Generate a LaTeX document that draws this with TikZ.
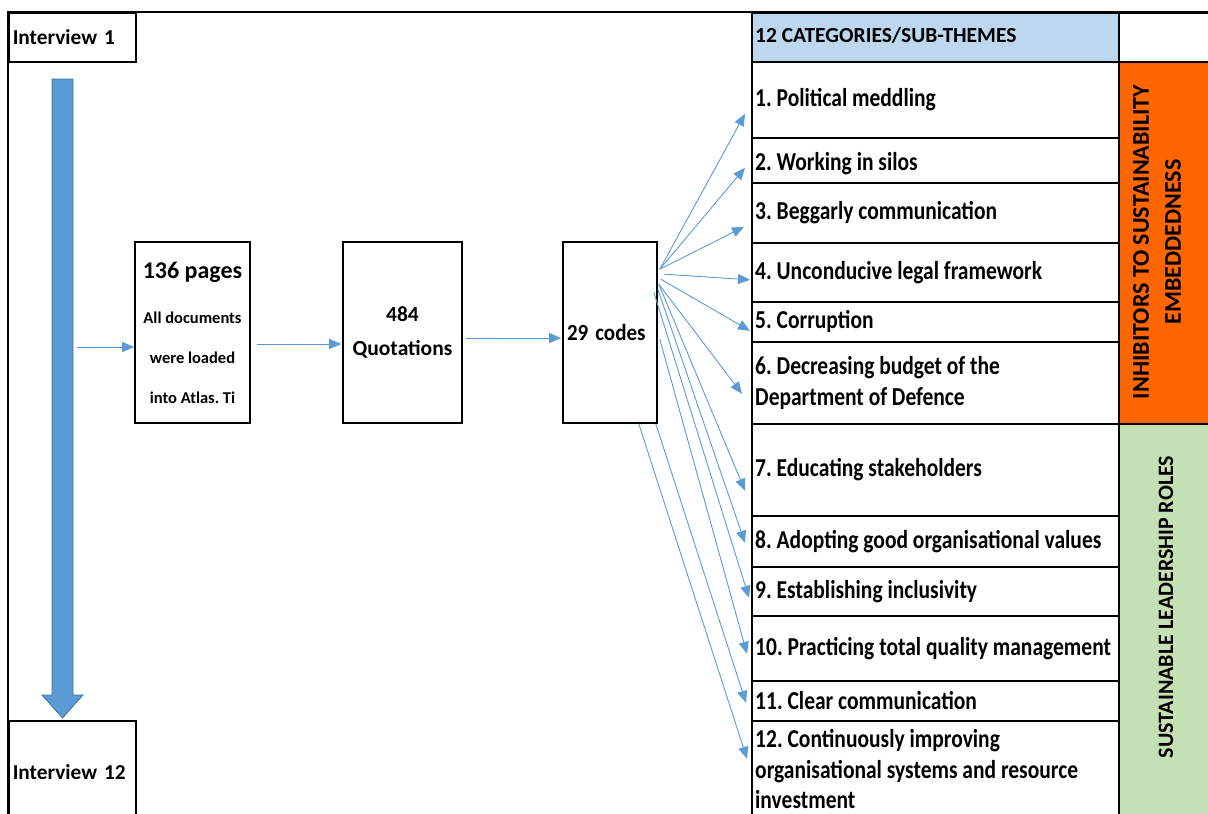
\documentclass[tikz,border=0pt]{standalone}
\usepackage{graphicx}
\usepackage{fontspec}
\setmainfont{Carlito}
\usetikzlibrary{arrows.meta,calc}
\definecolor{flowblue}{HTML}{5B9BD5}
\definecolor{flowedge}{HTML}{41719C}
\definecolor{headblue}{HTML}{BDD7EE}
\definecolor{inhibit}{HTML}{FF6600}
\definecolor{leadgreen}{HTML}{C5E0B4}
% table entries are set a little taller than wide
\newcommand\tallrow[1]{\scalebox{1}[1.2]{#1}}

\begin{document}
\frenchspacing
\begin{tikzpicture}[x=1pt,y=-1pt,
  frame/.style={draw=black,line width=1.6pt},
  stagebox/.style={frame,fill=white,inner sep=0pt,align=center,font=\bfseries},
  cell/.style={frame,anchor=north west,inner sep=0pt,minimum width=367pt},
  rowtext/.style={anchor=west,inner xsep=4pt,inner ysep=0pt,align=left,
    font=\bfseries\fontsize{21.5}{31}\selectfont},
  sidecell/.style={draw=black,line width=1.6pt,anchor=north west,inner sep=0pt,minimum width=112pt},
  sidetext/.style={rotate=90,align=center,font=\bfseries\fontsize{24}{32}\selectfont},
  link/.style={draw=flowblue,line width=0.9pt,-{Triangle[length=12pt,width=10pt]}},
]
\useasboundingbox (0,0) rectangle (1208,814);

% outer frame
\draw[frame] (8,830) -- (8,12) -- (1230,12);

% interview boxes and the block arrow between them
\node[frame,anchor=north west,minimum width=127pt,minimum height=49pt,inner xsep=4pt,
  text width=119pt,align=left,font=\bfseries\fontsize{21.3}{26}\selectfont] (int1) at (8,12) {\raisebox{-2pt}{Interview 1}};
\node[frame,anchor=north west,minimum width=127pt,minimum height=102pt,inner xsep=4pt,
  text width=119pt,align=left,font=\bfseries\fontsize{21.3}{26}\selectfont] (int12) at (8,720) {Interview 12};
\draw[fill=flowblue,draw=flowedge,line width=0.8pt]
  (52,79) -- (73,79) -- (73,695) -- (83,695) -- (62.5,718) -- (42,695) -- (52,695) -- cycle;

% processing stages
\node[stagebox,minimum width=115pt,minimum height=181pt,font=\bfseries\fontsize{16.5}{40}\selectfont]
  (pages) at (192.5,332.5) {{\fontsize{24}{24}\selectfont 136 pages}\\[5pt]All documents\\were loaded\\into Atlas. Ti};
\node[stagebox,minimum width=119pt,minimum height=181pt,font=\bfseries\fontsize{21.5}{34}\selectfont]
  (quot) at (402.5,332.5) {484\\Quotations};
\node[stagebox,minimum width=94pt,minimum height=181pt,inner xsep=4pt,text width=86pt,align=left,
  font=\bfseries\fontsize{21}{26}\selectfont] (codes) at (610,332.5) {\scalebox{1}[1.1]{29 codes}};

\coordinate (feed) at (77,347);
\coordinate (pq) at (257,344);
\coordinate (qc) at (466,338);
\draw[link] (feed) -- (feed -| pages.west);
\draw[link] (pq) -- ([xshift=-1pt]pq -| quot.west);
\draw[link] (qc) -- ([xshift=-1pt]qc -| codes.west);

% category table
\node[cell,fill=headblue,minimum height=49pt] (head) at (751,12) {};
\node[cell,minimum height=76pt] (r1) at (751,61) {};
\node[cell,minimum height=45pt] (r2) at (751,137) {};
\node[cell,minimum height=60pt] (r3) at (751,182) {};
\node[cell,minimum height=59pt] (r4) at (751,242) {};
\node[cell,minimum height=40pt] (r5) at (751,301) {};
\node[cell,minimum height=82pt] (r6) at (751,341) {};
\node[cell,minimum height=92pt] (r7) at (751,423) {};
\node[cell,minimum height=51pt] (r8) at (751,515) {};
\node[cell,minimum height=49pt] (r9) at (751,566) {};
\node[cell,minimum height=65pt] (r10) at (751,615) {};
\node[cell,minimum height=40pt] (r11) at (751,680) {};
\node[cell,minimum height=102pt] (r12) at (751,720) {};

\node[rowtext,font=\bfseries\fontsize{21.5}{26}\selectfont] (headtext) at ([yshift=2pt]head.west) {12 CATEGORIES/SUB-THEMES};
\node[rowtext] (t1) at (r1.west) {\tallrow{1. Political meddling}};
\node[rowtext] (t2) at ([yshift=-3pt]r2.west) {\tallrow{2. Working in silos}};
\node[rowtext] (t3) at (r3.west) {\tallrow{3. Beggarly communication}};
\node[rowtext] (t4) at (r4.west) {\tallrow{4. Unconducive legal framework}};
\node[rowtext] (t5) at (r5.west) {\tallrow{5. Corruption}};
\node[rowtext] (t6) at (r6.west) {\tallrow{6. Decreasing budget of the}\\\tallrow{Department of Defence}};
\node[rowtext] (t7) at (r7.west) {\tallrow{7. Educating stakeholders}};
\node[rowtext] (t8) at (r8.west) {\tallrow{8. Adopting good organisational values}};
\node[rowtext] (t9) at (r9.west) {\tallrow{9. Establishing inclusivity}};
\node[rowtext] (t10) at (r10.west) {\tallrow{10. Practicing total quality management}};
\node[rowtext] (t11) at (r11.west) {\tallrow{11. Clear communication}};
\node[rowtext,font=\bfseries\fontsize{21.5}{30.5}\selectfont] (t12) at ([yshift=2.5pt]r12.west) {\tallrow{12. Continuously improving}\\\tallrow{organisational systems and resource}\\\tallrow{investment}};

% theme column
\node[sidecell,minimum height=49pt] (blank) at (1118,12) {};
\node[sidecell,fill=inhibit,minimum height=362pt] (inh) at (1118,61) {};
\node[sidecell,fill=leadgreen,minimum height=407pt] (lead) at (1118,423) {};
\node[sidetext] (inhtext) at (1157,242) {INHIBITORS TO SUSTAINABILITY\\EMBEDDEDNESS};
\node[sidetext,font=\bfseries\fontsize{22}{32}\selectfont] (leadtext) at (1166,607) {SUSTAINABLE LEADERSHIP ROLES};

% codes fanned out to the categories
\coordinate (hub) at ($(codes.north east)+(2,28)$);
\coordinate (s4) at ($(codes.north east)+(6,33)$);
\coordinate (s5) at ($(codes.north east)+(3,38)$);
\coordinate (s6) at ($(codes.north east)+(1,43)$);
\coordinate (s8) at ($(codes.north east)+(0,48)$);
\coordinate (s9) at ($(codes.north east)+(-4,51)$);
\coordinate (s10) at ($(codes.north east)+(2,98)$);
\coordinate (s11) at ($(codes.south east)+(-2,0)$);
\coordinate (s12) at ($(codes.south east)+(-19,0)$);

\draw[link] (hub) -- ($(r1.west)+(-6,14)$);
\draw[link] (hub) -- ($(r2.west)+(-6,7.5)$);
\draw[link] (hub) -- ($(r3.west)+(-7,14)$);
\draw[link] (s4) -- ($(r4.west)+(-1,7.5)$);
\draw[link] (s5) -- ($(r5.west)+(-1,9)$);
\draw[link] (s6) -- ($(r6.west)+(-9,11)$);
\draw[link] (s6) -- ($(r7.west)+(-6,21)$);
\draw[link] (s8) -- ($(r8.west)+(-6,1.5)$);
\draw[link] (s9) -- ($(r9.west)+(-2,6.5)$);
\draw[link] (s10) -- ($(r10.west)+(-4,5.5)$);
\draw[link] (s11) -- ($(r11.west)+(-5,2)$);
\draw[link] (s12) -- ($(r12.west)+(-4,-13)$);
\end{tikzpicture}
\end{document}
